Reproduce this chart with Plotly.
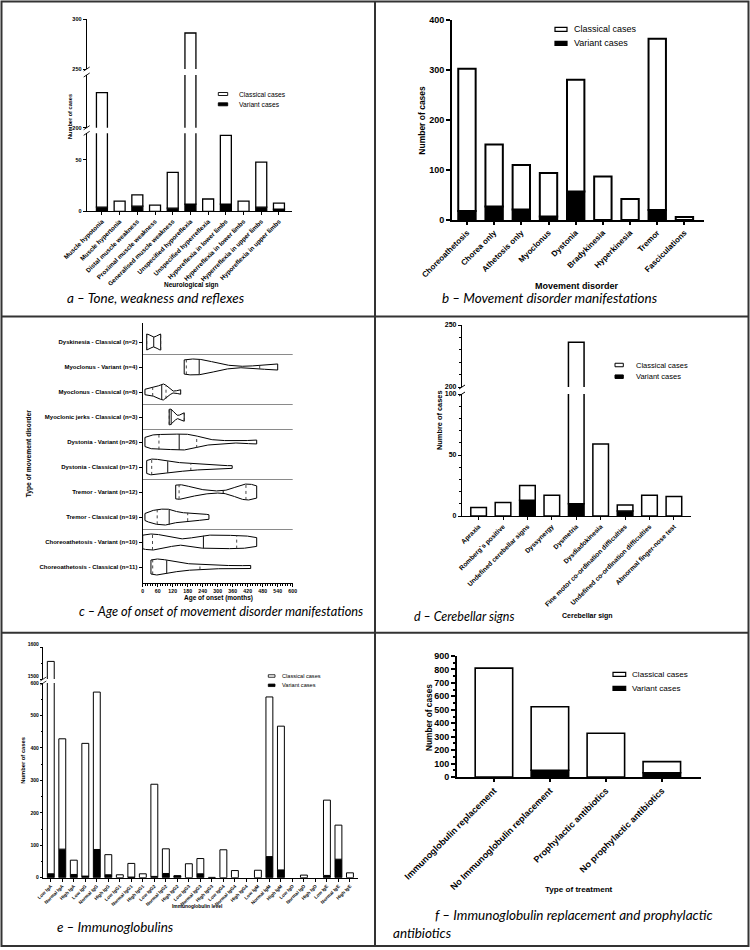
import numpy as np
import plotly.graph_objects as go

W, H = 750, 950
FONT = "Liberation Sans"
TFONT = "Lato"

def px(x):
    return x / W

def py(y):
    return 1 - y / H

# ---------------- data ----------------
a_labels = ["Muscle hypotonia", "Muscle hypertonia", "Distal muscle weakness",
            "Proximal muscle weakness", "Generalised muscle weakness",
            "Unspecified hyporeflexia", "Unspecified hyperreflexia",
            "Hyporeflexia in lower limbs", "Hyperreflexia in lower limbs",
            "Hyperreflexia in upper limbs", "Hyporeflexia in upper limbs"]
a_classical = [226, 10, 11, 6, 35, 279, 12, 67, 10, 44, 6]
a_variant = [4, 0, 5, 0, 3, 7, 0, 7, 0, 4, 2]

b_labels = ["Choreoathetosis", "Chorea only", "Athetosis only", "Myoclonus", "Dystonia",
            "Bradykinesia", "Hyperkinesia", "Tremor", "Fasciculations"]
b_classical = [285, 124, 89, 87, 224, 87, 42, 343, 6]
b_variant = [18, 27, 21, 7, 57, 0, 0, 20, 0]

c_groups = ["Dyskinesia - Classical", "Myoclonus - Variant", "Myoclonus - Classical",
            "Myoclonic jerks - Classical", "Dystonia - Variant", "Dystonia - Classical",
            "Tremor - Variant", "Tremor - Classical", "Choreoathetosis - Variant",
            "Choreoathetosis - Classical"]
c_ages = [
    [16, 72],
    [166, 200, 252, 540],
    [9, 35, 55, 72, 80, 88, 95, 152],
    [106, 114, 166],
    [9, 18, 30, 42, 52, 62, 66, 80, 95, 110, 120, 130, 140, 152, 160, 170, 180, 192,
     205, 214, 222, 250, 290, 350, 440, 456],
    [16, 22, 28, 34, 38, 55, 70, 85, 100, 115, 135, 160, 185, 200, 240, 290, 358],
    [132, 138, 144, 150, 165, 244, 400, 405, 410, 414, 440, 456],
    [9, 25, 38, 48, 58, 68, 78, 88, 98, 106, 112, 125, 140, 160, 180, 195, 215, 240, 265],
    [0, 25, 44, 90, 236, 250, 300, 370, 394, 456],
    [33, 36, 40, 60, 80, 96, 130, 180, 229, 320, 432],
]
c_xticks = [0, 60, 120, 180, 240, 300, 360, 420, 480, 540, 600]

d_labels = ["Apraxia", "Romberg`s positive", "Undefined cerebellar signs", "Dyssynergy",
            "Dysmetria", "Dysdiadokinesia", "Fine motor co-ordination difficulties",
            "Undefined co-ordination difficulties", "Abnormal finger-nose test"]
d_classical = [7, 11, 12, 17, 226, 59, 5, 17, 16]
d_variant = [0, 0, 13, 0, 10, 0, 4, 0, 0]

e_labels = ["Low IgA", "Normal IgA", "High IgA", "Low IgG", "Normal IgG", "High IgG",
            "Low IgG1", "Normal IgG1", "High IgG1", "Low IgG2", "Normal IgG2", "High IgG2",
            "Low IgG3", "Normal IgG3", "High IgG3", "Low IgG4", "Normal IgG4", "High IgG4",
            "Low IgM", "Normal IgM", "High IgM", "Low IgD", "Normal IgD", "High IgD",
            "Low IgE", "Normal IgE", "High IgE"]
e_classical = [1543, 340, 44, 409, 485, 62, 9, 42, 12, 284, 76, 1, 43, 47, 1, 86, 22, 0,
               23, 492, 443, 0, 8, 0, 232, 105, 15]
e_variant = [12, 88, 10, 5, 87, 9, 0, 2, 0, 4, 13, 5, 0, 12, 0, 0, 0, 0,
             0, 65, 24, 0, 0, 0, 7, 57, 0]

f_labels = ["Immunoglobulin replacement", "No Immunoglobulin replacement",
            "Prophylactic antibiotics", "No prophylactic antibiotics"]
f_classical = [810, 472, 325, 82]
f_variant = [0, 50, 0, 32]

# ---------------- helpers ----------------
fig = go.Figure()
layout = {}
shapes = []
annotations = []


def add_bars(labels, classical, variant, xa, yas, width, lw):
    idx = list(range(len(labels)))
    var = [v if v > 0 else None for v in variant]
    cla = [c if c > 0 else None for c in classical]
    for ya in yas:
        fig.add_trace(go.Bar(x=idx, y=var, xaxis=xa, yaxis=ya, width=width,
                             marker=dict(color="black", line=dict(color="black", width=lw)),
                             showlegend=False, hoverinfo="skip"))
        fig.add_trace(go.Bar(x=idx, y=cla, base=variant, xaxis=xa, yaxis=ya, width=width,
                             marker=dict(color="white", line=dict(color="black", width=lw)),
                             showlegend=False, hoverinfo="skip"))


def xcat(left, right, rng, labels, anchor, fs, lw, angle=-45):
    return dict(domain=[px(left), px(right)], range=rng, anchor=anchor,
                tickmode="array", tickvals=list(range(len(labels))), ticktext=labels,
                tickangle=angle, showline=True, linecolor="black", linewidth=lw,
                ticks="outside", ticklen=3, tickwidth=lw, tickcolor="black",
                tickfont=dict(family=FONT, size=fs, color="black", weight="bold"),
                showgrid=False, zeroline=False, fixedrange=True, automargin=False)


def ynum(top, bottom, rng, tickvals, anchor, fs, lw, minor=None, ticklen=3, ticktext=None):
    d = dict(domain=[py(bottom), py(top)], range=rng, anchor=anchor,
             tickmode="array", tickvals=tickvals,
             showline=True, linecolor="black", linewidth=lw,
             ticks="outside", ticklen=ticklen, tickwidth=lw, tickcolor="black",
             tickfont=dict(family=FONT, size=fs, color="black", weight="bold"),
             showgrid=False, zeroline=False, fixedrange=True, automargin=False)
    if ticktext is not None:
        d["ticktext"] = ticktext
    if minor:
        d["minor"] = dict(tickmode="linear", tick0=0, dtick=minor, ticks="outside",
                          ticklen=max(1.5, ticklen * 0.55), tickwidth=max(0.8, lw * 0.8),
                          tickcolor="black", showgrid=False)
    return d


def text(x, y, s, size, bold=False, angle=0, xanchor="center", family=FONT, italic=False):
    f = dict(family=family, size=size, color="black")
    if bold:
        f["weight"] = "bold"
    if italic:
        f["style"] = "italic"
    annotations.append(dict(x=px(x), y=py(y), xref="paper", yref="paper", text=s,
                            showarrow=False, font=f, textangle=angle, xanchor=xanchor,
                            yanchor="middle"))


def legend(x0, x1, ys, h, tx, size, lw):
    for i, y in enumerate(ys):
        shapes.append(dict(type="rect", xref="paper", yref="paper",
                           x0=px(x0), x1=px(x1), y0=py(y + h / 2), y1=py(y - h / 2),
                           line=dict(color="black", width=lw),
                           fillcolor="white" if i == 0 else "black"))
    text(tx, ys[0], "Classical cases", size, xanchor="left")
    text(tx, ys[1], "Variant cases", size, xanchor="left")


def brk(x, y, lw=1):
    shapes.append(dict(type="line", xref="paper", yref="paper",
                       x0=px(x - 3), x1=px(x + 3), y0=py(y + 2), y1=py(y - 2),
                       line=dict(color="black", width=lw)))


# ---------------- panel a ----------------
add_bars(a_labels, a_classical, a_variant, "x", ["y", "y2", "y3"], 0.62, 1.3)
layout["xaxis"] = xcat(86.7, 291.7, [-0.86, 10.72], a_labels, "y", 6.3, 1.1)
layout["yaxis"] = ynum(133.3, 211.3, [0, 76], [0, 50], "x", 5.5, 1.1)
layout["yaxis2"] = ynum(75, 127.7, [200, 245], [200], "x", 5.5, 1.1)
layout["yaxis3"] = ynum(19, 69, [250, 300], [250, 300], "x", 5.5, 1.1)
for yy in (69, 75, 127.7, 133.3):
    brk(86.7, yy, 0.9)
text(70, 117, "Number of cases", 5.6, bold=True, angle=-90)
text(191, 285, "Neurological sign", 6.5, bold=True)
legend(218.3, 227.7, [94, 104.3], 3, 236.7, 6.7, 0.9)
text(65, 298, "a – Tone, weakness and reflexes", 13.5, xanchor="left", family=TFONT, italic=True)

# ---------------- panel b ----------------
add_bars(b_labels, b_classical, b_variant, "x2", ["y4"], 0.64, 2)
layout["xaxis2"] = xcat(452, 704, [-0.55, 8.72], b_labels, "y4", 8, 2)
layout["yaxis4"] = ynum(20.3, 220, [0, 400], [0, 100, 200, 300, 400], "x2", 9, 2, ticklen=4)
text(421.7, 120, "Number of cases", 8.5, bold=True, angle=-90)
text(577, 286, "Movement disorder", 9, bold=True)
legend(555, 567, [29.3, 43.3], 4, 571.7, 9, 1.2)
text(440, 298, "b – Movement disorder manifestations", 13.5, xanchor="left", family=TFONT, italic=True)

# ---------------- panel c (violins) ----------------
BW = 0.5      # smoothing factor relative to Scott's rule
HALF = 0.32   # half of the widest violin, in category units
ng = len(c_groups)
c_pos = [ng - 1 - i for i in range(ng)]
med_x, med_y, q_x, q_y = [], [], [], []
for name, ages, pos in zip(c_groups, c_ages, c_pos):
    v = np.asarray(ages, dtype=float)
    n = len(v)
    h = BW * 1.06 * v.std(ddof=1) * n ** -0.2
    grid = np.linspace(v.min(), v.max(), 300)
    dens = np.exp(-0.5 * ((grid[None, :] - v[:, None]) / h) ** 2).sum(axis=0)
    w = HALF * dens / dens.max()
    xs = np.concatenate([grid, grid[::-1], grid[:1]])
    ys = np.concatenate([pos + w, (pos - w)[::-1], [pos + w[0]]])
    fig.add_trace(go.Scatter(x=xs, y=ys, mode="lines", fill="toself", fillcolor="white",
                             line=dict(color="black", width=1), xaxis="x3", yaxis="y5",
                             showlegend=False, hoverinfo="skip"))
    q1, med, q3 = np.percentile(v, [25, 50, 75], method="weibull")
    wm = float(np.interp(med, grid, w))
    med_x += [med, med, None]
    med_y += [pos - wm, pos + wm, None]
    for q in (q1, q3):
        wq = float(np.interp(q, grid, w))
        q_x += [q, q, None]
        q_y += [pos - wq, pos + wq, None]
fig.add_trace(go.Scatter(x=q_x, y=q_y, mode="lines", line=dict(color="#333", width=0.9, dash="dot"),
                         xaxis="x3", yaxis="y5", showlegend=False, hoverinfo="skip"))
fig.add_trace(go.Scatter(x=med_x, y=med_y, mode="lines", line=dict(color="#222", width=1.1),
                         xaxis="x3", yaxis="y5", showlegend=False, hoverinfo="skip"))
c_ticktext = [f"{g} (n={len(a)})" for g, a in zip(c_groups, c_ages)]
layout["xaxis3"] = dict(domain=[px(142.7), px(292.7)], range=[0, 600], anchor="y5",
                        tickmode="array", tickvals=c_xticks, showline=True, linecolor="black",
                        linewidth=1.2, ticks="outside", ticklen=3, tickwidth=1, tickcolor="black",
                        minor=dict(tickmode="linear", tick0=0, dtick=10, ticks="outside",
                                   ticklen=1.8, tickwidth=0.8, tickcolor="black"),
                        tickfont=dict(family=FONT, size=5.2, color="black", weight="bold"),
                        showgrid=False, zeroline=False, fixedrange=True, automargin=False)
layout["yaxis5"] = ynum(323, 583, [-0.64, 9.76], c_pos, "x3", 6, 1.2, ticktext=c_ticktext)
for i in range(ng - 1):
    if c_groups[i].split(" - ")[0] != c_groups[i + 1].split(" - ")[0]:
        yy = (c_pos[i] + c_pos[i + 1]) / 2
        shapes.append(dict(type="line", xref="x3 domain", yref="y5", x0=0, x1=1, y0=yy, y1=yy,
                           line=dict(color="#8a8a8a", width=1), layer="below"))
text(29.3, 453, "Type of movement disorder", 6.7, bold=True, angle=-90)
text(218, 598, "Age of onset (months)", 6.5, bold=True)
text(77, 611, "c – Age of onset of movement disorder manifestations", 12.8, xanchor="left",
     family=TFONT, italic=True)

# ---------------- panel d ----------------
add_bars(d_labels, d_classical, d_variant, "x4", ["y6", "y7"], 0.64, 1.5)
layout["xaxis4"] = xcat(462, 691, [-0.68, 8.7], d_labels, "y6", 6.6, 1.3)
layout["yaxis6"] = ynum(394, 516, [0, 100], [0, 50, 100], "x4", 7, 1.3, minor=10)
layout["yaxis7"] = ynum(325, 387, [200, 250], [200, 250], "x4", 7, 1.3, minor=10)
for yy in (387, 394):
    brk(462, yy, 1)
text(439, 420, "Numbre of cases", 7.4, bold=True, angle=-90)
text(587, 616, "Cerebellar sign", 7, bold=True)
legend(615, 623.3, [365, 376.7], 3.5, 634.3, 7.5, 1)
text(412, 616, "d – Cerebellar signs", 12.5, xanchor="left", family=TFONT, italic=True)

# ---------------- panel e ----------------
add_bars(e_labels, e_classical, e_variant, "x5", ["y8", "y9"], 0.6, 1)
layout["xaxis5"] = xcat(43.3, 358, [-0.65, 26.7], e_labels, "y8", 4.7, 1)
layout["yaxis8"] = ynum(683, 877.7, [0, 600], [0, 100, 200, 300, 400, 500, 600], "x5", 5,
                        1, minor=50, ticklen=2.5)
layout["yaxis9"] = ynum(647, 679, [1500, 1600], [1500, 1600], "x5", 5, 1, minor=50, ticklen=2.5)
layout["yaxis9"]["ticklabelshift"] = -3
for yy in (679, 683):
    brk(43.3, yy, 0.8)
text(22.7, 760, "Number of cases", 5.8, bold=True, angle=-90)
text(197, 906, "Immunoglobulin level", 4.9, bold=True)
legend(268.3, 275, [676, 685.3], 2.5, 280, 5.6, 0.8)
text(55, 926.7, "e – Immunoglobulins", 13.5, xanchor="left", family=TFONT, italic=True)

# ---------------- panel f ----------------
add_bars(f_labels, f_classical, f_variant, "x6", ["y10"], 0.67, 1.6)
layout["xaxis6"] = xcat(457, 701, [-0.66, 3.7], f_labels, "y10", 9, 2)
layout["yaxis10"] = ynum(656, 777, [0, 900], list(range(0, 1000, 100)), "x6", 9, 2,
                         minor=50, ticklen=4)
text(429, 717, "Number of cases", 8.3, bold=True, angle=-90)
text(579, 889, "Type of treatment", 8.1, bold=True)
legend(613, 625.7, [674.3, 688.3], 4, 630, 8.1, 1.2)
text(433, 915, "f – Immunoglobulin replacement and prophylactic", 13.5, xanchor="left",
     family=TFONT, italic=True)
text(391, 933, "antibiotics", 13.5, xanchor="left", family=TFONT, italic=True)

# ---------------- frame ----------------
FR = dict(color="#333", width=2)
shapes.append(dict(type="rect", xref="paper", yref="paper", x0=px(1.5), x1=px(748.5),
                   y0=py(946), y1=py(1.5), line=FR, fillcolor="rgba(0,0,0,0)"))
shapes.append(dict(type="line", xref="paper", yref="paper", x0=px(375), x1=px(375),
                   y0=py(946), y1=py(1.5), line=FR))
for yy in (316.5, 632.7):
    shapes.append(dict(type="line", xref="paper", yref="paper", x0=px(1.5), x1=px(748.5),
                       y0=py(yy), y1=py(yy), line=FR))

fig.update_layout(**layout)
fig.update_layout(barmode="overlay", width=W, height=H, autosize=False,
                  margin=dict(l=0, r=0, t=0, b=0, pad=0, autoexpand=False),
                  plot_bgcolor="white", paper_bgcolor="white", showlegend=False,
                  shapes=shapes, annotations=annotations)

fig.write_html("out.html", config={"displayModeBar": False},
               post_script="document.body.style.margin='0';")
